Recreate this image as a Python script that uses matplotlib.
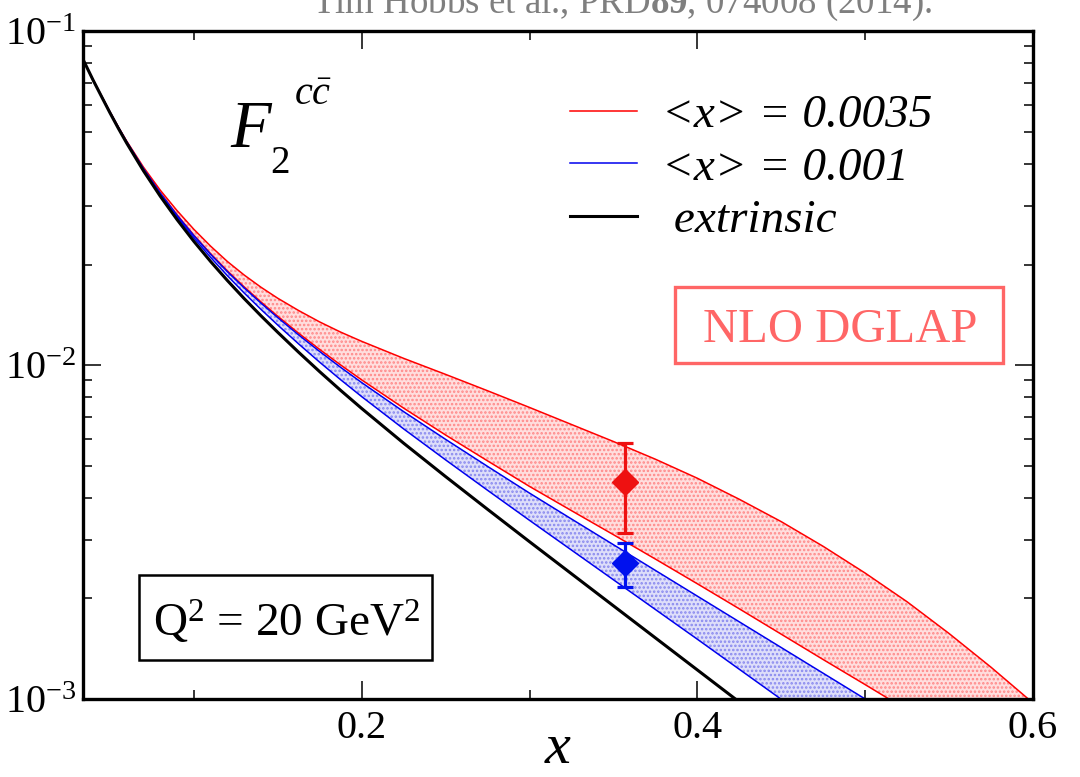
import numpy as np
import matplotlib
matplotlib.use("Agg")
import matplotlib.pyplot as plt
from matplotlib.lines import Line2D
from matplotlib.patches import Rectangle

plt.rcParams["font.family"] = ["Liberation Serif", "DejaVu Serif"]
plt.rcParams["mathtext.fontset"] = "custom"
plt.rcParams["mathtext.rm"] = "Liberation Serif"
plt.rcParams["mathtext.it"] = "Liberation Serif:italic"
plt.rcParams["mathtext.bf"] = "Liberation Serif:bold"
plt.rcParams["hatch.linewidth"] = 1.2

#------------------------------ F2 charm curves (Q^2 = 20 GeV^2) ------------------------------
x_grid = [0.034, 0.04, 0.045, 0.05, 0.055, 0.06, 0.07, 0.08, 0.09, 0.1, 0.11, 0.12, 0.13, 0.14,
          0.15, 0.1625, 0.175, 0.1875, 0.2, 0.225, 0.25, 0.275, 0.3, 0.325, 0.35, 0.375, 0.4,
          0.425, 0.45, 0.475, 0.5, 0.525, 0.55, 0.575, 0.6]

# log10(F2) along each curve
logF2_extrinsic = [-1.085, -1.147, -1.196, -1.2445, -1.291, -1.3355, -1.4185, -1.4945, -1.5645,
                   -1.6295, -1.69, -1.747, -1.801, -1.8525, -1.902, -1.962, -2.02, -2.076, -2.13,
                   -2.234, -2.334, -2.432, -2.529, -2.625, -2.721, -2.817, -2.913, -3.009, -3.105,
                   -3.201, -3.297, -3.393, -3.489, -3.585, -3.681]
logF2_blue_lo = [-1.085, -1.1465, -1.195, -1.243, -1.289, -1.3327, -1.414, -1.4882, -1.5563,
                 -1.6193, -1.6777, -1.7325, -1.7842, -1.8333, -1.8803, -1.937, -1.9916, -2.0441,
                 -2.0945, -2.1912, -2.284, -2.375, -2.465, -2.554, -2.643, -2.732, -2.821, -2.911,
                 -3.001, -3.091, -3.181, -3.271, -3.361, -3.451, -3.541]
logF2_blue_hi = [-1.085, -1.1465, -1.195, -1.2425, -1.288, -1.3315, -1.412, -1.485, -1.5515,
                 -1.6125, -1.6685, -1.7205, -1.769, -1.8145, -1.858, -1.91, -1.9595, -2.007,
                 -2.0525, -2.1395, -2.2225, -2.3035, -2.3835, -2.461, -2.538, -2.615, -2.692,
                 -2.769, -2.846, -2.923, -3.0, -3.077, -3.154, -3.231, -3.308]
logF2_red_lo = [-1.085, -1.1465, -1.195, -1.2425, -1.288, -1.3313, -1.4115, -1.4845, -1.5505,
                -1.611, -1.6665, -1.718, -1.766, -1.811, -1.854, -1.905, -1.9535, -2.0, -2.0445,
                -2.129, -2.2095, -2.287, -2.3635, -2.436, -2.508, -2.581, -2.655, -2.73, -2.806,
                -2.882, -2.957, -3.033, -3.109, -3.185, -3.261]
logF2_red_hi = [-1.085, -1.146, -1.194, -1.2415, -1.287, -1.3295, -1.4075, -1.4765, -1.5375,
                -1.5935, -1.644, -1.69, -1.7305, -1.767, -1.8, -1.837, -1.871, -1.9015, -1.929,
                -1.98, -2.028, -2.077, -2.127, -2.178, -2.229, -2.282, -2.339, -2.402, -2.469,
                -2.543, -2.623, -2.709, -2.804, -2.905, -3.012]

# <x> points with uncertainties
pt_x = [0.357, 0.357]
pt_F2 = [0.00447, 0.00255]
pt_lo = [0.00314, 0.00216]
pt_hi = [0.00583, 0.00293]
pt_colors = ["#ee1111", "#0011ee"]

labels = ["<x> = 0.0035", "<x> = 0.001", " extrinsic"]

x_grid = np.array(x_grid)
F2 = {k: 10 ** np.array(v) for k, v in {
    "ext": logF2_extrinsic, "blo": logF2_blue_lo, "bhi": logF2_blue_hi,
    "rlo": logF2_red_lo, "rhi": logF2_red_hi}.items()}

#------------------------------ plotting ------------------------------
fig = plt.figure(figsize=(10.8, 7.77), dpi=100)
ax = fig.add_axes([0.0769, 0.1004, 0.8796, 0.8596])

ax.fill_between(x_grid, F2["rlo"], F2["rhi"], facecolor="#ffdede", edgecolor="#ff8888",
                hatch="....", linewidth=0, zorder=1)
ax.fill_between(x_grid, F2["blo"], F2["bhi"], facecolor="#dedefa", edgecolor="#8888ee",
                hatch="....", linewidth=0, zorder=1)

ax.plot(x_grid, F2["rhi"], color="red", lw=1.1, zorder=2)
ax.plot(x_grid, F2["rlo"], color="red", lw=1.1, zorder=2)
ax.plot(x_grid, F2["bhi"], color="#0000ee", lw=1.1, zorder=2)
ax.plot(x_grid, F2["blo"], color="#0000ee", lw=1.1, zorder=2)
ax.plot(x_grid, F2["ext"], color="black", lw=2.2, zorder=3)

for xv, yv, lo, hi, c in zip(pt_x, pt_F2, pt_lo, pt_hi, pt_colors):
    ax.errorbar([xv], [yv], yerr=[[yv - lo], [hi - yv]], fmt="D", color=c, ms=13,
                elinewidth=2.3, capsize=6, capthick=2.3, zorder=4)

ax.set_yscale("log")
ax.set_xlim(0.034, 0.6)
ax.set_ylim(1e-3, 1e-1)

ax.set_xticks([0.2, 0.4, 0.6])
ax.set_xticklabels(["0.2", "0.4", "0.6"])
ax.set_xticks([0.1, 0.3, 0.5], minor=True)
ax.set_yticks([1e-3, 1e-2, 1e-1])
ax.set_yticklabels([r"10$^{-3}$", r"10$^{-2}$", r"10$^{-1}$"])
ax.tick_params(which="both", direction="in", top=True, right=True, labelsize=29, width=1.1)
ax.tick_params(which="major", length=13, pad=8)
ax.tick_params(axis="y", which="major", pad=5)
ax.tick_params(which="minor", length=6.5)
for sp in ax.spines.values():
    sp.set_linewidth(2.4)

ax.set_xlabel("x", fontsize=42, fontstyle="italic", labelpad=-17)

# F2 with c cbar superscript
ax.text(0.155, 0.826, "F", transform=ax.transAxes, fontsize=48, fontstyle="italic",
        va="baseline", ha="left")
ax.text(0.197, 0.787, "2", transform=ax.transAxes, fontsize=28, va="baseline", ha="left")
ax.text(0.222, 0.889, r"$c\bar{c}$", transform=ax.transAxes, fontsize=29, va="baseline",
        ha="left")

handles = [Line2D([], [], color="red", lw=1.1),
           Line2D([], [], color="#0000ee", lw=1.1),
           Line2D([], [], color="black", lw=2.2)]
ax.legend(handles, labels, loc="upper left", bbox_to_anchor=(0.468, 0.969), frameon=False,
          prop=dict(size=34, style="italic"), handlelength=1.42, handletextpad=0.52,
          labelspacing=0.2)

ax.add_patch(Rectangle((0.623, 0.503), 0.345, 0.114, transform=ax.transAxes, facecolor="white",
                       edgecolor="#ff6666", lw=2.4, zorder=5))
ax.text(0.797, 0.5344, "NLO DGLAP", transform=ax.transAxes, fontsize=35, color="#ff6666",
        ha="center", va="baseline", zorder=6)

ax.add_patch(Rectangle((0.0589, 0.0584), 0.3085, 0.1272, transform=ax.transAxes,
                       facecolor="white", edgecolor="black", lw=1.8, zorder=5))
ax.text(0.215, 0.093, r"Q$^2$ = 20 GeV$^2$", transform=ax.transAxes, fontsize=34,
        ha="center", va="baseline", zorder=6)

fig.text(0.289, 0.983, r"Tim Hobbs et al., PRD$\mathbf{89}$, 074008 (2014).", fontsize=26.6,
         color="#7f7f7f", ha="left", va="baseline")

fig.savefig("out.png", dpi=100)
